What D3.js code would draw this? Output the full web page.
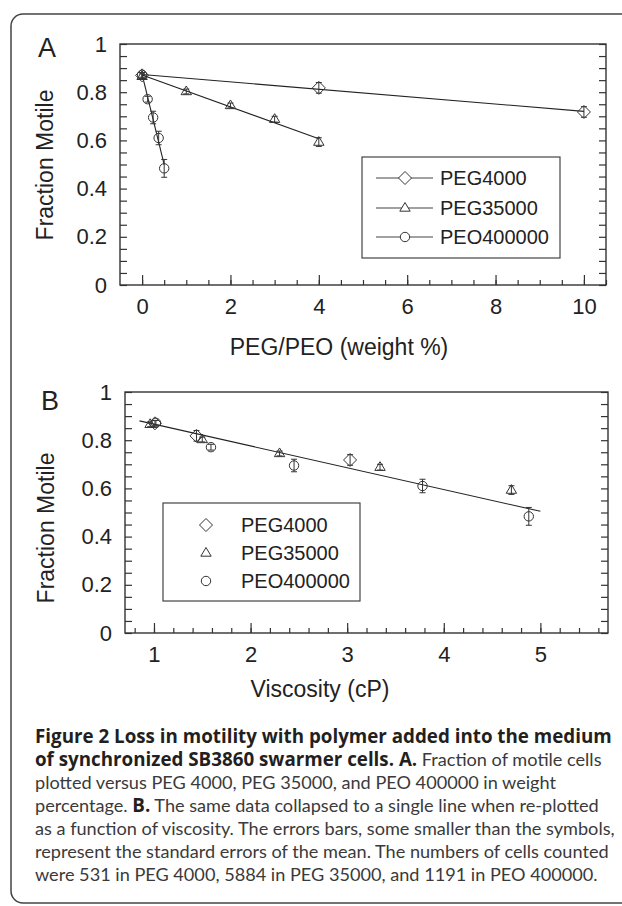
<!DOCTYPE html>
<html>
<head>
<meta charset="utf-8">
<script src="https://cdn.jsdelivr.net/npm/d3@7"></script>
<style>
body{margin:0;background:#fff}
svg text{font-family:"Liberation Sans",Arial,sans-serif;fill:#222}
.caption text{font-family:Lato,"Open Sans",sans-serif}
.caption tspan.b{font-family:"Open Sans",sans-serif;font-weight:700}
</style>
</head>
<body>
<svg id="fig"></svg>
<script>
// values
var seriesNames = ["PEG4000","PEG35000","PEO400000"]

var peg4000Wt = [0, 4, 10]
var peg4000Frac = [0.870, 0.818, 0.718]
var peg4000Err = [0.012, 0.022, 0.022]
var peg4000Visc = [1.01, 1.44, 3.03]

var peg35000Wt = [0, 1, 2, 3, 4]
var peg35000Frac = [0.866, 0.803, 0.745, 0.688, 0.593]
var peg35000Err = [0.01, 0.01, 0.01, 0.012, 0.018]
var peg35000Visc = [0.96, 1.50, 2.30, 3.34, 4.70]

var peo400000Wt = [0, 0.125, 0.25, 0.375, 0.5]
var peo400000Frac = [0.872, 0.771, 0.695, 0.610, 0.484]
var peo400000Err = [0.01, 0.012, 0.026, 0.028, 0.037]
var peo400000Visc = [1.02, 1.59, 2.45, 3.78, 4.88]

// straight line drawn in panel B
var fitBRange = [0.85, 5.0]
var fitBCoef = [0.957, -0.0904]

var yTickLabels = [0, 0.2, 0.4, 0.6, 0.8, 1]
var xTickLabelsA = [0, 2, 4, 6, 8, 10]
var xTickLabelsB = [1, 2, 3, 4, 5]

var captionLines = [
    [["b","Figure 2 Loss in motility with polymer added into the medium"]],
    [["b","of synchronized SB3860 swarmer cells. A."],["n"," Fraction of motile cells"]],
    [["n","plotted versus PEG 4000, PEG 35000, and PEO 400000 in weight"]],
    [["n","percentage. "],["b","B."],["n"," The same data collapsed to a single line when re-plotted"]],
    [["n","as a function of viscosity. The errors bars, some smaller than the symbols,"]],
    [["n","represent the standard errors of the mean. The numbers of cells counted"]],
    [["n","were 531 in PEG 4000, 5884 in PEG 35000, and 1191 in PEO 400000."]]
]

var makeSeries = function(name, wt, visc, frac, err)
{
    return wt.map(function(w, i)
    {
        return {name:name, wt:w, visc:visc[i], frac:frac[i], err:err[i]}
    })
}
var series = [
    makeSeries("PEG4000", peg4000Wt, peg4000Visc, peg4000Frac, peg4000Err),
    makeSeries("PEG35000", peg35000Wt, peg35000Visc, peg35000Frac, peg35000Err),
    makeSeries("PEO400000", peo400000Wt, peo400000Visc, peo400000Frac, peo400000Err)
]

var symbolPath = {
    "PEG4000":"M0,-6.5L6.5,0L0,6.5L-6.5,0Z",
    "PEG35000":"M0,-5.5L5.2,3.2L-5.2,3.2Z",
    "PEO400000":"M-4.7,0A4.7,4.7 0 1,0 4.7,0A4.7,4.7 0 1,0 -4.7,0Z"
}

var screen = {width:622, height:906}
var svg = d3.select("#fig")
    .attr("width", screen.width)
    .attr("height", screen.height)

// outer frame
svg.append("rect")
    .attr("x", 11).attr("y", 14)
    .attr("width", 640).attr("height", 889)
    .attr("rx", 12)
    .attr("fill", "none")
    .attr("stroke", "#444")
    .attr("stroke-width", 1.5)

var linReg = function(xs, ys)
{
    var mx = d3.mean(xs), my = d3.mean(ys)
    var sxy = d3.sum(xs, function(x, i) { return (x - mx) * (ys[i] - my) })
    var sxx = d3.sum(xs, function(x) { return (x - mx) * (x - mx) })
    var b = sxy / sxx
    return [my - b * mx, b]
}

var drawPanel = function(p)
{
    var xScale = d3.scaleLinear().domain(p.xDomain).range([p.left, p.right])
    var yScale = d3.scaleLinear().domain([0, 1]).range([p.bottom, p.top])
    var g = svg.append("g")

    // y minor/major ticks, inward, both sides
    var yTicks = d3.range(0, 1.0001, 0.05)
    g.append("g")
        .attr("transform", "translate(" + p.left + ",0)")
        .call(d3.axisRight(yScale).tickValues(yTicks).tickSize(7).tickFormat(""))
    g.append("g")
        .attr("transform", "translate(" + p.right + ",0)")
        .call(d3.axisLeft(yScale).tickValues(yTicks).tickSize(7).tickFormat(""))
    // y labels
    g.append("g")
        .attr("transform", "translate(" + p.left + ",0)")
        .call(d3.axisLeft(yScale).tickValues(yTickLabels).tickSize(0).tickPadding(13)
            .tickFormat(function(d) { return String(+d.toFixed(1)) }))
        .call(function(a) { a.select(".domain").remove() })
        .selectAll("text")
        .attr("font-size", 22)
        .attr("dy", "0.32em")
        .style("font-family", "Liberation Sans")

    // x ticks, inward
    g.append("g")
        .attr("transform", "translate(0," + p.bottom + ")")
        .call(d3.axisTop(xScale).tickValues(p.minorTicks).tickSize(5).tickFormat(""))
    g.append("g")
        .attr("transform", "translate(0," + p.bottom + ")")
        .call(d3.axisTop(xScale).tickValues(p.majorTicks).tickSize(10).tickFormat(""))
    g.append("g")
        .attr("transform", "translate(0," + p.bottom + ")")
        .call(d3.axisBottom(xScale).tickValues(p.majorTicks).tickSize(0).tickPadding(13)
            .tickFormat(d3.format("d")))
        .call(function(a) { a.select(".domain").remove() })
        .selectAll("text")
        .attr("font-size", 22)
        .style("font-family", "Liberation Sans")

    g.selectAll(".domain").remove()
    g.selectAll(".tick line").attr("stroke", "#333").attr("stroke-width", 1.2)

    // plot box
    g.append("rect")
        .attr("x", p.left).attr("y", p.top)
        .attr("width", p.right - p.left).attr("height", p.bottom - p.top)
        .attr("fill", "none").attr("stroke", "#333").attr("stroke-width", 1.4)

    // lines
    var line = d3.line()
        .x(function(d) { return xScale(d[0]) })
        .y(function(d) { return yScale(d[1]) })
    p.fits.forEach(function(f)
    {
        g.append("path")
            .datum([[f.x0, f.a + f.b * f.x0], [f.x1, f.a + f.b * f.x1]])
            .attr("d", line)
            .attr("fill", "none")
            .attr("stroke", "#222")
            .attr("stroke-width", 1.1)
    })

    // error bars + markers
    series.forEach(function(s)
    {
        var pts = g.append("g").selectAll("g")
            .data(s)
            .enter()
            .append("g")
            .attr("transform", function(d)
            {
                return "translate(" + xScale(d[p.xKey]) + "," + yScale(d.frac) + ")"
            })
        pts.append("path")
            .attr("d", function(d)
            {
                var t = yScale(d.frac + d.err) - yScale(d.frac)
                var b = yScale(d.frac - d.err) - yScale(d.frac)
                return "M0," + t + "V" + b + "M-3," + t + "H3M-3," + b + "H3"
            })
            .attr("stroke", "#333").attr("stroke-width", 1)
        pts.append("path")
            .attr("d", function(d) { return symbolPath[d.name] })
            .attr("fill", "none")
            .attr("stroke", "#333")
            .attr("stroke-width", 1)
    })

    // legend
    var lg = g.append("g")
    lg.append("rect")
        .attr("x", p.legend.x).attr("y", p.legend.y)
        .attr("width", p.legend.w).attr("height", p.legend.h)
        .attr("fill", "#fff").attr("stroke", "#444").attr("stroke-width", 1.2)
    seriesNames.forEach(function(name, i)
    {
        var cy = p.legend.rowY[i]
        if (p.legend.lines)
        {
            lg.append("line")
                .attr("x1", p.legend.lineX[0]).attr("x2", p.legend.lineX[1])
                .attr("y1", cy).attr("y2", cy)
                .attr("stroke", "#444").attr("stroke-width", 1.1)
        }
        lg.append("path")
            .attr("transform", "translate(" + p.legend.markX + "," + cy + ")")
            .attr("d", symbolPath[name])
            .attr("fill", "#fff").attr("stroke", "#333").attr("stroke-width", 1)
        lg.append("text")
            .text(name)
            .attr("x", p.legend.textX).attr("y", cy)
            .attr("dy", "0.35em")
            .attr("font-size", 20)
    })

    // labels
    g.append("text")
        .text(p.letter)
        .attr("x", p.letterX).attr("y", p.letterY)
        .attr("font-size", 27)
    g.append("text")
        .text(p.xLabel)
        .attr("text-anchor", "middle")
        .attr("x", p.xLabelX).attr("y", p.xLabelY)
        .attr("font-size", 23)
    g.append("g")
        .attr("transform", "translate(" + p.yLabelX + "," + p.yLabelY + ")")
        .append("text")
        .text("Fraction Motile")
        .attr("text-anchor", "middle")
        .attr("transform", "rotate(270)")
        .attr("font-size", 23)
}

var fitsA = series.map(function(s)
{
    var xs = s.map(function(d) { return d.wt })
    var c = linReg(xs, s.map(function(d) { return d.frac }))
    return {a:c[0], b:c[1], x0:d3.min(xs), x1:d3.max(xs)}
})

drawPanel({
    left:120, right:606, top:44, bottom:285,
    xDomain:[-0.5, 10.5], xKey:"wt",
    minorTicks:d3.range(0, 10.6, 0.5), majorTicks:xTickLabelsA,
    fits:fitsA,
    legend:{x:362, y:157, w:198, h:101, rowY:[178, 208, 237], lines:true,
        lineX:[376, 433], markX:405, textX:440},
    letter:"A", letterX:38, letterY:57,
    xLabel:"PEG/PEO (weight %)", xLabelX:339, xLabelY:355,
    yLabelX:53, yLabelY:165
})

drawPanel({
    left:125, right:608, top:392, bottom:633,
    xDomain:[0.7, 5.7], xKey:"visc",
    minorTicks:d3.range(0.8, 5.61, 0.2), majorTicks:xTickLabelsB,
    fits:[{a:fitBCoef[0], b:fitBCoef[1], x0:fitBRange[0], x1:fitBRange[1]}],
    legend:{x:163, y:503, w:197, h:98, rowY:[525, 553, 581], lines:false,
        markX:206, textX:241},
    letter:"B", letterX:41, letterY:410,
    xLabel:"Viscosity (cP)", xLabelX:320, xLabelY:697,
    yLabelX:54, yLabelY:528
})

// caption: bold and regular runs sized separately to the widths seen
var cap = svg.append("g").classed("caption", true)
var capBase = [743, 766, 789, 812, 835, 858, 881]
var rows = cap.selectAll("text")
    .data(captionLines)
    .enter()
    .append("text")
    .attr("x", 35)
    .attr("y", function(d, i) { return capBase[i] })
    .attr("font-size", 16)
var spans = rows.selectAll("tspan")
    .data(function(d) { return d })
    .enter()
    .append("tspan")
    .attr("class", function(d) { return d[0] })
    .text(function(d) { return d[1] })
    .style("fill", function(d) { return d[0] == "b" ? "#231f20" : "#3a3a3a" })
var boldSize = 16 * 577 / rows.nodes()[0].getComputedTextLength()
var normSize = 16 * 580 / rows.nodes()[4].getComputedTextLength()
spans.attr("font-size", function(d) { return d[0] == "b" ? boldSize : normSize })
</script>
</body>
</html>
